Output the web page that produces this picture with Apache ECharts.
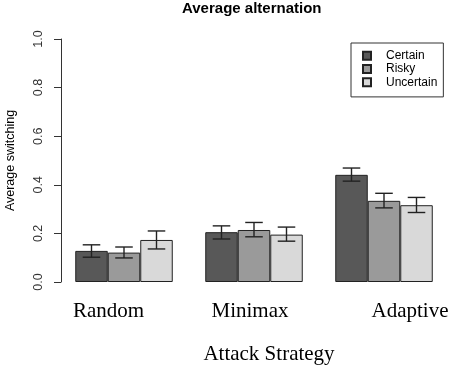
<!DOCTYPE html>
<html>
<head>
<meta charset="utf-8">
<script src="https://cdn.jsdelivr.net/npm/echarts@6/dist/echarts.min.js"></script>
<style>
	html, body { margin: 0; padding: 0; background: #fff; }
	#chart { width: 454px; height: 369px; }
</style>
</head>
<body>
<div id="chart"></div>
<script>
	// 数据
	var categories = ['Random', 'Minimax', 'Adaptive'];
	var seriesNames = ['Certain', 'Risky', 'Uncertain'];
	var certain = [0.128, 0.205, 0.441];
	var risky = [0.121, 0.214, 0.334];
	var uncertain = [0.173, 0.195, 0.316];
	// error bar low / high
	var certainLow = [0.102, 0.177, 0.415];
	var certainHigh = [0.153, 0.231, 0.469];
	var riskyLow = [0.099, 0.186, 0.305];
	var riskyHigh = [0.144, 0.245, 0.365];
	var uncertainLow = [0.136, 0.168, 0.286];
	var uncertainHigh = [0.210, 0.226, 0.348];
	var yTicks = [0, 0.2, 0.4, 0.6, 0.8, 1.0];

	var colors = ['#585858', '#9a9a9a', '#d9d9d9'];
	var values = [certain, risky, uncertain];
	var lows = [certainLow, riskyLow, uncertainLow];
	var highs = [certainHigh, riskyHigh, uncertainHigh];

	var errData = [];
	for (var s = 0; s < 3; s++) {
		for (var c = 0; c < categories.length; c++) {
			errData.push([c, lows[s][c], highs[s][c], s]);
		}
	}

	var chart = echarts.init(document.getElementById('chart'));

	var barSeries = seriesNames.map(function (n, i) {
		return {
			name: n,
			type: 'bar',
			data: values[i],
			barGap: '0%',
			barCategoryGap: '25%',
			itemStyle: { color: colors[i], borderColor: '#222', borderWidth: 1 },
			z: 2
		};
	});

	var option = {
		animation: false,
		title: {
			text: 'Average alternation',
			left: 177,
			top: -4,
			textStyle: { fontFamily: 'Liberation Sans', fontWeight: 'bold', fontSize: 15, color: '#000' }
		},
		legend: {
			data: seriesNames,
			orient: 'vertical',
			left: 351,
			top: 43,
			padding: [6, 6, 8, 11],
			borderColor: '#333',
			borderWidth: 1,
			itemWidth: 8,
			itemHeight: 8,
			itemGap: 0,
			icon: 'rect',
			textStyle: { fontFamily: 'Liberation Sans', fontSize: 12, color: '#000', lineHeight: 13.3, padding: [0, 0, 0, 10] }
		},
		grid: { left: 59, width: 390, top: 39, bottom: 87, containLabel: false, outerBoundsMode: 'none' },
		xAxis: {
			type: 'category',
			data: categories,
			axisLine: { show: false },
			axisTick: { show: false },
			axisLabel: {
				margin: 19,
				interval: 0,
				hideOverlap: false,
				formatter: function (v) { return '{' + v + '|' + v + '}'; },
				rich: {
					Random: { fontFamily: 'Liberation Serif', fontSize: 21, color: '#000', padding: [0, 31, 0, 0] },
					Minimax: { fontFamily: 'Liberation Serif', fontSize: 21, color: '#000', padding: [0, 8, 0, 0] },
					Adaptive: { fontFamily: 'Liberation Serif', fontSize: 21, color: '#000', padding: [0, 0, 0, 52] }
				}
			},
			name: 'Attack Strategy',
			nameLocation: 'middle',
			nameGap: 62,
			nameTextStyle: { fontFamily: 'Liberation Serif', fontSize: 21, color: '#000', padding: [0, 0, 0, 30] }
		},
		yAxis: {
			type: 'value',
			min: yTicks[0],
			max: yTicks[yTicks.length - 1],
			interval: 0.2,
			offset: -2,
			name: 'Average switching',
			nameLocation: 'middle',
			nameGap: 44,
			nameTextStyle: { fontFamily: 'Liberation Sans', fontSize: 12.5, color: '#000' },
			axisLine: { show: true, lineStyle: { color: '#333', width: 1 } },
			axisTick: { show: true, length: 7, lineStyle: { color: '#333' } },
			splitLine: { show: false },
			axisLabel: {
				rotate: 90,
				margin: 16,
				fontFamily: 'Liberation Sans',
				fontSize: 12.5,
				color: '#333',
				formatter: function (v) { return v.toFixed(1); }
			}
		},
		series: barSeries.concat([{
			type: 'custom',
			name: 'err',
			z: 5,
			data: errData,
			renderItem: function (params, api) {
				var cat = api.value(0);
				var grp = api.value(3);
				var band = api.size([1, 0])[0];
				var bw = band * 0.75 / 3;
				var lo = api.coord([cat, api.value(1)]);
				var hi = api.coord([cat, api.value(2)]);
				var x = lo[0] + (grp - 1) * bw;
				var hw = bw * 0.27;
				var st = { stroke: '#222', lineWidth: 1.4 };
				return {
					type: 'group',
					children: [
						{ type: 'line', shape: { x1: x, y1: lo[1], x2: x, y2: hi[1] }, style: st },
						{ type: 'line', shape: { x1: x - hw, y1: lo[1], x2: x + hw, y2: lo[1] }, style: st },
						{ type: 'line', shape: { x1: x - hw, y1: hi[1], x2: x + hw, y2: hi[1] }, style: st }
					]
				};
			}
		}])
	};
	chart.setOption(option);
</script>
</body>
</html>
